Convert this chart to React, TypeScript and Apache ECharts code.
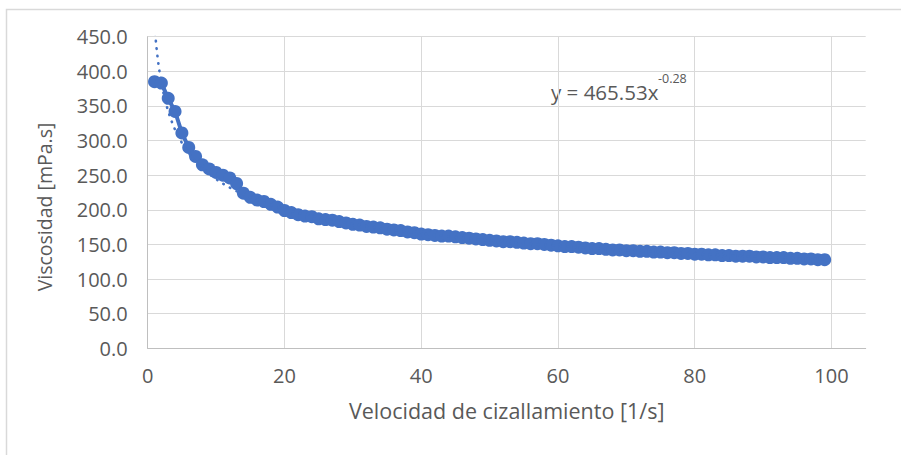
import React, { useEffect, useRef } from "react";
import * as echarts from "echarts";

const SHEAR_RATE = [
  1, 2, 3, 4, 5, 6, 7, 8, 9, 10,
  11, 12, 13, 14, 15, 16, 17, 18, 19, 20,
  21, 22, 23, 24, 25, 26, 27, 28, 29, 30,
  31, 32, 33, 34, 35, 36, 37, 38, 39, 40,
  41, 42, 43, 44, 45, 46, 47, 48, 49, 50,
  51, 52, 53, 54, 55, 56, 57, 58, 59, 60,
  61, 62, 63, 64, 65, 66, 67, 68, 69, 70,
  71, 72, 73, 74, 75, 76, 77, 78, 79, 80,
  81, 82, 83, 84, 85, 86, 87, 88, 89, 90,
  91, 92, 93, 94, 95, 96, 97, 98, 99,
];

const VISCOSITY = [
  385, 383, 361, 342, 311, 290, 277, 265, 259, 254,
  250, 246, 238, 224, 218, 214, 212, 208, 204, 199,
  196, 193, 191, 190, 187, 186, 185, 183, 181, 179,
  178, 176, 175, 174, 172, 171, 170, 168, 167, 165,
  164, 163, 162, 162, 161, 160, 159, 158, 157, 156,
  155, 154, 154, 153, 152, 151, 151, 150, 149, 148,
  147, 147, 146, 145, 144, 144, 143, 142, 142, 141,
  141, 140, 140, 139, 139, 138, 138, 137, 137, 136,
  136, 135, 135, 134, 134, 133, 133, 133, 132, 132,
  131, 131, 131, 130, 130, 129, 129, 128, 128,
];

// Power trendline shown on the chart: y = 465.53 x^-0.28
const TREND_A = 465.53;
const TREND_B = -0.28;

const X_AXIS_TITLE = "Velocidad de cizallamiento [1/s]";
const Y_AXIS_TITLE = "Viscosidad [mPa.s]";
const EQUATION_MAIN = "y = 465.53x";
const EQUATION_EXP = "-0.28";

export default function App() {
  const ref = useRef<HTMLDivElement>(null);

  useEffect(() => {
    const chart = echarts.init(ref.current!, null, { renderer: "svg" });
    const font = "'Open Sans', sans-serif";
    const textColor = "#595959";
    const blue = "#4472C4";

    const data = SHEAR_RATE.map((x, i) => [x, VISCOSITY[i]]);
    const trend: number[][] = [];
    const x0 = SHEAR_RATE[0];
    const x1 = SHEAR_RATE[SHEAR_RATE.length - 1];
    for (let x = x0; x <= x1 + 1e-9; x += 0.25) {
      trend.push([x, TREND_A * Math.pow(x, TREND_B)]);
    }

    chart.setOption({
      animation: false,
      backgroundColor: "#ffffff",
      grid: { left: 147.7, top: 36.7, right: 35.3, bottom: 106.7, containLabel: false },
      xAxis: {
        type: "value",
        min: 0,
        max: 105,
        interval: 20,
        axisLine: { show: true, lineStyle: { color: "#bfbfbf", width: 1 } },
        axisTick: { show: false },
        splitLine: { show: true, showMaxLine: false, lineStyle: { color: "#d9d9d9", width: 1 } },
        axisLabel: {
          showMaxLabel: false,
          color: textColor,
          fontFamily: font,
          fontSize: 20,
          margin: 17,
          formatter: (v: number) => (v % 20 === 0 ? String(v) : ""),
        },
        name: X_AXIS_TITLE,
        nameLocation: "middle",
        nameGap: 51,
        nameTextStyle: { color: textColor, fontFamily: font, fontSize: 21.5 },
      },
      yAxis: {
        type: "value",
        min: 0,
        max: 450,
        interval: 50,
        axisLine: { show: true, lineStyle: { color: "#bfbfbf", width: 1 } },
        axisTick: { show: false },
        splitLine: { show: true, lineStyle: { color: "#d9d9d9", width: 1 } },
        axisLabel: {
          color: textColor,
          fontFamily: font,
          fontSize: 20,
          margin: 20,
          formatter: (v: number) => v.toFixed(1),
        },
      },
      series: [
        {
          type: "line",
          data,
          symbol: "circle",
          symbolSize: 13,
          showSymbol: true,
          showAllSymbol: true,
          itemStyle: { color: blue },
          lineStyle: { color: blue, width: 4 },
          z: 2,
        },
        {
          type: "line",
          data: trend,
          symbol: "none",
          showSymbol: false,
          lineStyle: { color: blue, width: 2.6, type: [0.5, 7], cap: "round" },
          z: 3,
        },
      ],
      graphic: [
        {
          type: "rect",
          shape: { x: 6.5, y: 9.5, width: 1200, height: 1200 },
          style: { fill: "none", stroke: "#d9d9d9", lineWidth: 1.5 },
          silent: true,
          z: -1,
        },
        {
          type: "text",
          x: 44,
          y: 207,
          rotation: Math.PI / 2,
          style: {
            text: Y_AXIS_TITLE,
            fill: textColor,
            fontFamily: font,
            fontSize: 19.5,
            align: "center",
            verticalAlign: "middle",
          },
        },
        {
          type: "text",
          x: 551,
          y: 91.5,
          style: {
            text: EQUATION_MAIN,
            fill: textColor,
            fontFamily: font,
            fontSize: 20.5,
            verticalAlign: "middle",
            align: "left",
          },
        },
        {
          type: "text",
          x: 658,
          y: 78,
          style: {
            text: EQUATION_EXP,
            fill: textColor,
            fontFamily: font,
            fontSize: 12.5,
            verticalAlign: "middle",
            align: "left",
          },
        },
      ],
    });

    return () => chart.dispose();
  }, []);

  return (
    <div
      ref={ref}
      style={{ position: "absolute", left: 0, top: 0, width: 901, height: 455 }}
    />
  );
}
